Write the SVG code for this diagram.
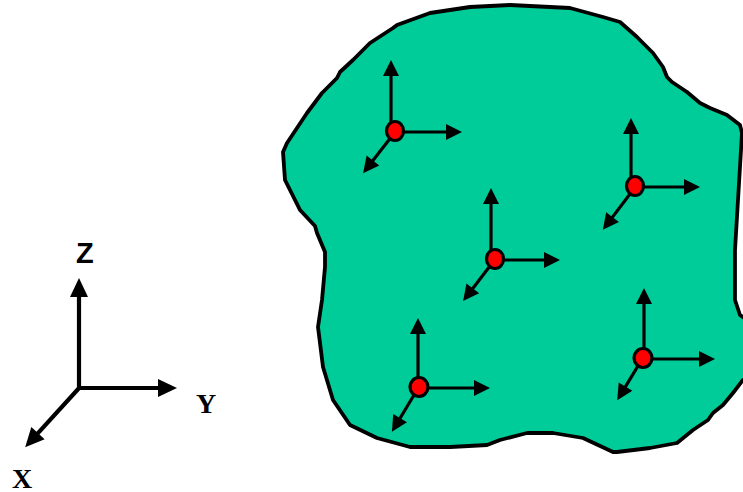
<svg xmlns="http://www.w3.org/2000/svg" width="743" height="492" viewBox="0 0 743 492">
<style>
.blob{fill:#00CC99;stroke:#000;stroke-width:3.8;stroke-linejoin:round}
.ax{stroke:#000;stroke-width:4.2;fill:none;marker-end:url(#bigHead)}
.ar{stroke:#000;stroke-width:3.2;fill:none;marker-end:url(#head)}
.pt{fill:#FF0000;stroke:#000;stroke-width:3.2}
.lblS{font-family:"Liberation Sans",Arial,sans-serif;font-weight:bold;font-size:29px;fill:#000}
.lblT{font-family:"Liberation Serif","Times New Roman",serif;font-weight:bold;font-size:28px;fill:#000}
</style>
<defs>
<marker id="head" markerUnits="userSpaceOnUse" markerWidth="17" markerHeight="17" refX="1" refY="0" orient="auto" overflow="visible">
<path d="M0,-8 L16,0 L0,8 Z" fill="#000"/>
</marker>
<marker id="bigHead" markerUnits="userSpaceOnUse" markerWidth="20" markerHeight="19" refX="1" refY="0" orient="auto" overflow="visible">
<path d="M0,-9 L19,0 L0,9 Z" fill="#000"/>
</marker>
</defs>

<g id="body">
<path class="blob" d="M510,5 L570,8 L603,17 L620,22 L637,37 L653,53 L663,67 L667,77 L672,82 L687,92 L700,103 L710,108 L727,115 L740,125 L742,133 L738,200 L735,250 L735,300 L740,315 L750,322 L750,378 L743,380 L733,393 L723,405 L713,413 L708,420 L693,430 L677,443 L650,448 L617,452 L613,452 L583,438 L553,433 L527,433 L500,440 L487,445 L450,447 L410,447 L377,438 L350,425 L333,400 L323,367 L318,327 L322,300 L325,267 L325,252 L317,233 L315,226 L300,210 L285,180 L283,152 L287,143 L307,113 L322,93 L337,78 L340,72 L353,60 L370,43 L393,28 L397,25 L430,13 L470,7 Z"/>
</g>

<g id="axes">
<line class="ax" x1="79" y1="390" x2="79" y2="296"/>
<line class="ax" x1="77" y1="388" x2="159" y2="388"/>
<line class="ax" x1="80" y1="387" x2="37.3" y2="433.9"/>
<text class="lblS" x="76" y="263">Z</text>
<text class="lblT" x="196" y="413">Y</text>
<text class="lblT" x="12" y="488">X</text>
</g>

<g id="point1">
<line class="ar" x1="391" y1="132" x2="391" y2="75"/>
<line class="ar" x1="394" y1="132" x2="447" y2="132"/>
<line class="ar" x1="392" y1="136" x2="372.3" y2="161.3"/>
<ellipse class="pt" cx="395" cy="131" rx="8.5" ry="9.5"/>
</g>

<g id="point2">
<line class="ar" x1="631" y1="186" x2="631" y2="133"/>
<line class="ar" x1="635" y1="187" x2="685" y2="187"/>
<line class="ar" x1="633" y1="190" x2="611.9" y2="217.9"/>
<ellipse class="pt" cx="635" cy="186" rx="8.5" ry="9.5"/>
</g>

<g id="point3">
<line class="ar" x1="491" y1="259" x2="491" y2="203"/>
<line class="ar" x1="495" y1="260" x2="545" y2="260"/>
<line class="ar" x1="493" y1="262" x2="472.2" y2="289.2"/>
<ellipse class="pt" cx="495" cy="259" rx="8.5" ry="9.5"/>
</g>

<g id="point4">
<line class="ar" x1="418" y1="387" x2="418" y2="333"/>
<line class="ar" x1="419" y1="388" x2="475" y2="388"/>
<line class="ar" x1="417" y1="390" x2="399.6" y2="419"/>
<ellipse class="pt" cx="419" cy="387" rx="9" ry="9.5"/>
</g>

<g id="point5">
<line class="ar" x1="644" y1="358" x2="644" y2="303"/>
<line class="ar" x1="643" y1="359" x2="700" y2="359"/>
<line class="ar" x1="641" y1="361" x2="625" y2="387.4"/>
<ellipse class="pt" cx="643" cy="358" rx="9" ry="9.5"/>
</g>
</svg>
